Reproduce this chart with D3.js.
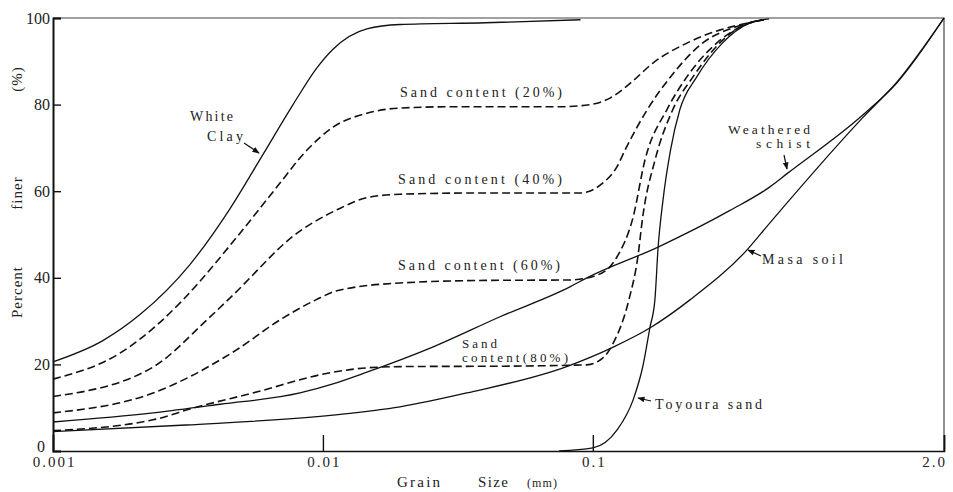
<!DOCTYPE html>
<html>
<head>
<meta charset="utf-8">
<script src="https://cdn.jsdelivr.net/npm/d3@7"></script>
<style>
	body { margin: 0; background: #fff; }
	svg { display: block; }
	text { font-family: "Liberation Serif", "DejaVu Serif", serif; fill: #222; }
</style>
</head>
<body>
<svg id="chart" width="953" height="492"></svg>
<script>
// grain size (mm), percent finer (%)
var whiteClay = [[0.001,20.6],[0.00153,25.5],[0.0021,31.5],[0.00321,43],[0.00453,56],[0.006,68.5],[0.00775,80],[0.0095,88.5],[0.0109,92.8],[0.01455,97.5],[0.0193,98.5],[0.04,98.9],[0.09,99.6]];
var sand20 = [[0.001,16.6],[0.00177,22.6],[0.00255,30.3],[0.00303,34.9],[0.00493,50.3],[0.00676,61],[0.00873,69.5],[0.0109,74.8],[0.01455,78],[0.0193,79.2],[0.03,79.5],[0.0755,79.5],[0.0976,80],[0.1157,81.5],[0.126,83],[0.141,85.5],[0.167,89.6],[0.223,94.2],[0.295,97.2],[0.36,98.6],[0.43,99.6]];
var sand40 = [[0.001,12.6],[0.00235,19.4],[0.00372,30.3],[0.00464,36],[0.00802,50.3],[0.01127,55.7],[0.01455,58.5],[0.0193,59.3],[0.04,59.6],[0.0918,59.6],[0.0951,59.8],[0.109,61.9],[0.1228,65.6],[0.1316,69.5],[0.159,78.8],[0.194,86.4],[0.255,94.2],[0.34,98],[0.43,99.6]];
var sand60 = [[0.001,8.8],[0.00235,13.4],[0.00477,23.3],[0.00694,30.3],[0.00942,34.9],[0.01127,37],[0.0193,38.8],[0.04,39.4],[0.0822,39.5],[0.1035,40.6],[0.1228,44.8],[0.141,54],[0.156,67.2],[0.188,78.8],[0.223,86.4],[0.2876,94.2],[0.366,98.4],[0.43,99.6]];
var sand80 = [[0.001,4.7],[0.00235,7.2],[0.0033,9.9],[0.0055,13.4],[0.0109,18.2],[0.01455,19.2],[0.02,19.5],[0.05,19.6],[0.0822,19.8],[0.0951,19.9],[0.109,21.5],[0.119,24.9],[0.136,34.9],[0.1468,44.8],[0.153,54],[0.17,67.2],[0.1977,78.8],[0.235,86.4],[0.295,94.2],[0.366,98.5],[0.43,99.6]];
var weatheredSchist = [[0.001,6.7],[0.00235,8.8],[0.00416,10.8],[0.00822,13.4],[0.0109,15.5],[0.01455,18.2],[0.0255,24],[0.0453,31],[0.0822,37.9],[0.0951,40],[0.1745,47.1],[0.321,55.5],[0.453,61],[0.523,64],[1.0,77.6],[1.337,85],[2.0,100]];
var masaSoil = [[0.001,4.5],[0.00311,6],[0.0109,8.3],[0.0193,10.2],[0.0341,13.4],[0.08,19.5],[0.119,24],[0.1626,28.4],[0.229,34.9],[0.372,46.4],[0.453,52.7],[1.0,77],[1.337,85.2],[2.0,100]];
var toyouraSand = [[0.075,0],[0.1,0.7],[0.1228,4.8],[0.141,11.8],[0.153,19.4],[0.1626,28.4],[0.1698,34.9],[0.1745,47],[0.182,58],[0.194,69.5],[0.21,78.8],[0.2427,86.4],[0.302,94.2],[0.38,98.8],[0.45,99.8]];

var xTicks = [0.001, 0.01, 0.1, 2];
var xTickLabels = ['0.001', '0.01', '0.1', '2.0'];
var yTicks = [0, 20, 40, 60, 80, 100];

var series = [
	{data: whiteClay, dashed: false},
	{data: sand20, dashed: true},
	{data: sand40, dashed: true},
	{data: sand60, dashed: true},
	{data: sand80, dashed: true},
	{data: weatheredSchist, dashed: false},
	{data: masaSoil, dashed: false},
	{data: toyouraSand, dashed: false}
];

var svg = d3.select('#chart');
var x = d3.scaleLog().domain([0.001, 2]).range([53, 944]);
var y = d3.scaleLinear().domain([0, 100]).range([451, 18]);

// frame top / right
svg.append('path')
	.attr('d', 'M' + x(0.001) + ',' + y(100) + 'H' + x(2) + 'V' + y(0))
	.attr('fill', 'none')
	.attr('stroke', '#444')
	.attr('stroke-width', 1.2);

var xAxis = svg.append('g')
	.attr('transform', 'translate(0,' + y(0) + ')')
	.call(d3.axisBottom(x).tickValues(xTicks).tickSize(-16).tickPadding(5)
		.tickFormat(function(d, i) { return xTickLabels[i]; }));
xAxis.select('.domain').attr('stroke', '#111').attr('stroke-width', 1.6);
xAxis.selectAll('.tick line').attr('stroke', '#111').attr('stroke-width', 1.4);
xAxis.selectAll('.tick text')
	.style('font-family', '"Liberation Serif", serif')
	.style('font-size', '15px')
	.style('letter-spacing', '2px')
	.attr('dx', function(d) { return d == 2 ? -10 : 1; });

var yAxis = svg.append('g')
	.attr('transform', 'translate(' + x(0.001) + ',0)')
	.call(d3.axisLeft(y).tickValues(yTicks).tickSize(-8).tickPadding(3));
yAxis.select('.domain').attr('stroke', '#111').attr('stroke-width', 2);
yAxis.selectAll('.tick line').attr('stroke', '#111').attr('stroke-width', 1.4);
yAxis.selectAll('.tick text')
	.style('font-size', '16px')
	.attr('dy', function(d) { return d == 0 ? '0.05em' : '0.32em'; })
	.attr('dx', function(d) { return d == 0 ? -5 : 0; });

var line = d3.line()
	.x(function(d) { return x(d[0]); })
	.y(function(d) { return y(d[1]); })
	.curve(d3.curveMonotoneX);

svg.selectAll('.curve')
	.data(series)
	.enter().append('path')
	.attr('class', 'curve')
	.attr('d', function(d) { return line(d.data); })
	.attr('fill', 'none')
	.attr('stroke', '#111')
	.attr('stroke-width', function(d) { return d.dashed ? 1.6 : 1.3; })
	.attr('stroke-dasharray', function(d) { return d.dashed ? '8,4' : null; });

// labels (pixel layout)
var labels = [
	{text: 'White', x: 190, y: 121, w: 43, s: 14},
	{text: 'Clay', x: 207, y: 141, w: 36, s: 14},
	{text: 'Sand content (20%)', x: 400, y: 97, w: 162, s: 14},
	{text: 'Sand content (40%)', x: 398, y: 184, w: 164, s: 14},
	{text: 'Sand content (60%)', x: 398, y: 270, w: 162, s: 14},
	{text: 'Sand', x: 462, y: 348, w: 35, s: 13},
	{text: 'content(80%)', x: 462, y: 362, w: 106, s: 13},
	{text: 'Weathered', x: 728, y: 134, w: 82, s: 13.5},
	{text: 'schist', x: 756, y: 148, w: 54, s: 13.5},
	{text: 'Masa soil', x: 762, y: 264, w: 81, s: 14},
	{text: 'Toyoura sand', x: 655, y: 409, w: 107, s: 14}
];

svg.selectAll('.lbl')
	.data(labels)
	.enter().append('text')
	.attr('class', 'lbl')
	.attr('x', function(d) { return d.x; })
	.attr('y', function(d) { return d.y; })
	.attr('textLength', function(d) { return d.w; })
	.attr('lengthAdjust', 'spacing')
	.style('font-size', function(d) { return d.s + 'px'; })
	.text(function(d) { return d.text; });

svg.append('defs').append('marker')
	.attr('id', 'head')
	.attr('viewBox', '0 0 10 10')
	.attr('refX', 9).attr('refY', 5)
	.attr('markerWidth', 6).attr('markerHeight', 6)
	.attr('orient', 'auto')
	.append('path')
	.attr('d', 'M0,1L10,5L0,9Z')
	.attr('fill', '#111');

var arrows = [
	[244, 143, 259, 153],
	[784, 155, 787, 169],
	[761, 256, 748, 250],
	[651, 401, 638, 398]
];

svg.selectAll('.arrow')
	.data(arrows)
	.enter().append('line')
	.attr('class', 'arrow')
	.attr('x1', function(d) { return d[0]; })
	.attr('y1', function(d) { return d[1]; })
	.attr('x2', function(d) { return d[2]; })
	.attr('y2', function(d) { return d[3]; })
	.attr('stroke', '#111')
	.attr('stroke-width', 1.2)
	.attr('marker-end', 'url(#head)');

// axis titles
var yTitles = [['Percent', 292], ['finer', 193], ['(%)', 79]];
yTitles.forEach(function(t) {
	svg.append('text')
		.attr('transform', 'translate(22,' + t[1] + ') rotate(-90)')
		.attr('text-anchor', 'middle')
		.style('font-size', '15px')
		.style('letter-spacing', '1px')
		.text(t[0]);
});

var xTitles = [['Grain', 397, 43, 15], ['Size', 478, 30, 15], ['(mm)', 527, 30, 12]];
xTitles.forEach(function(t) {
	svg.append('text')
		.attr('x', t[1])
		.attr('y', 487)
		.attr('textLength', t[2])
		.attr('lengthAdjust', 'spacing')
		.style('font-size', t[3] + 'px')
		.text(t[0]);
});
</script>
</body>
</html>
